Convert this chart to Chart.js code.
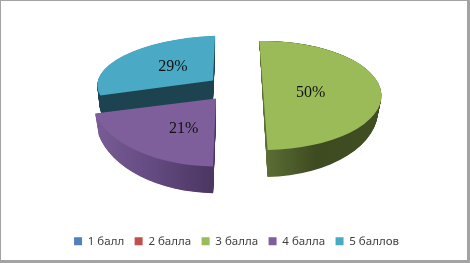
<!DOCTYPE html>
<html>
<head>
<meta charset="utf-8">
<script src="https://cdn.jsdelivr.net/npm/chart.js@4"></script>
<style>
  html, body { margin: 0; padding: 0; background: #fff; }
  #frame {
    position: absolute; left: 0; top: 0;
    width: 470px; height: 263px; box-sizing: border-box;
    border-style: solid; border-color: #a3a3a3;
    border-width: 1px 3px 3px 1px;
  }
  canvas { display: block; filter: blur(0.4px); }
</style>
</head>
<body>
<div id="frame"><canvas id="chart" width="466" height="259"></canvas></div>
<script>
/* ================================================
   DATA
================================================ */

const categories = ['1 балл', '2 балла', '3 балла', '4 балла', '5 баллов'];
const shares     = [0, 0, 50, 21, 29];
const colors     = ['#4f81bd', '#c0504d', '#9bbb59', '#7e5f9c', '#4aa9c4'];

/* ================================================
   FAKE 3D: per-slice tilt, explode and wall look
================================================ */

// back to front, the purple slice has to cover the teal wall
const DRAW_ORDER = [4, 3, 2];

const SLICE_3D = {
  2: {
    tilt: [1, 0, 0, 0.462], shift: [27, -17.5],
    wall: { dy: 15, kx: 0.97, ky: 1.22 },
    grad: [0, 1],
    stops: [[0, '#5d7036'], [0.45, '#3e4a20'], [1, '#414e23']],
    label: [0.40, 0.56, -2],
  },
  3: {
    tilt: [1.05, 0.036, -0.062, 0.575], shift: [-20.5, -14.5],
    wall: { dy: 20, kx: 0.97, ky: 1.1 },
    grad: [-1.05, 0],
    stops: [[0, '#7a5d96'], [0.5, '#634a80'], [1, '#4a3560']],
    label: [0.40, 0.56, 0],
  },
  4: {
    tilt: [0.98, -0.02, -0.052, 0.381], shift: [-23.5, -32.5],
    wall: { dy: 20, kx: 0.98, ky: 1 },
    grad: [-1, 0],
    stops: [[0, '#1d4350'], [1, '#1d4350']],
    label: [0.45, 0.56, 0],
  },
};

function wallFill(ctx, el, look) {
  const base = el.x + look.shift[0];
  const g = ctx.createLinearGradient(
    base + look.grad[0] * el.outerRadius, 0,
    base + look.grad[1] * el.outerRadius, 0
  );
  look.stops.forEach(s => g.addColorStop(s[0], s[1]));
  return g;
}

function applySlice(ctx, el, look, t) {
  const m = look.tilt;
  const kx = 1 + (look.wall.kx - 1) * t;
  const ky = 1 + (look.wall.ky - 1) * t;
  ctx.translate(el.x + look.shift[0], el.y + look.shift[1] + look.wall.dy * t);
  ctx.transform(m[0] * kx, m[1] * ky, m[2] * kx, m[3] * ky, 0, 0);
  ctx.translate(-el.x, -el.y);
}

const pie3d = {
  id: 'pie3d',
  beforeDatasetDraw(chart, args) {
    const ctx = chart.ctx;
    DRAW_ORDER.forEach(i => {
      const el = args.meta.data[i];
      const look = SLICE_3D[i];

      /* Side walls */
      ctx.save();
      const fill = wallFill(ctx, el, look);
      for (let n = 40; n > 0; n--) {
        ctx.save();
        applySlice(ctx, el, look, n / 40);
        ctx.beginPath();
        ctx.moveTo(el.x, el.y);
        ctx.arc(el.x, el.y, el.outerRadius, el.startAngle, el.endAngle);
        ctx.closePath();
        ctx.restore();
        ctx.fillStyle = fill;
        ctx.fill();
      }
      ctx.restore();

      /* Top face */
      ctx.save();
      applySlice(ctx, el, look, 0);
      el.draw(ctx);
      ctx.restore();
    });
    return false;
  },
  afterDatasetsDraw(chart) {
    const ctx = chart.ctx;
    const meta = chart.getDatasetMeta(0);
    ctx.save();
    ctx.font = '16px "Liberation Serif"';
    ctx.fillStyle = '#111';
    ctx.textAlign = 'center';
    ctx.textBaseline = 'middle';
    DRAW_ORDER.forEach(i => {
      const el = meta.data[i];
      const look = SLICE_3D[i];
      const mid = (el.startAngle + el.endAngle) / 2;
      const px = Math.cos(mid) * el.outerRadius * look.label[0];
      const py = Math.sin(mid) * el.outerRadius * look.label[1];
      const m = look.tilt;
      const x = el.x + look.shift[0] + m[0] * px + m[2] * py;
      const y = el.y + look.shift[1] + m[1] * px + m[3] * py + look.label[2];
      ctx.fillText(shares[i] + '%', x, y);
    });
    ctx.restore();
  },
};

/* ================================================
   CHART
================================================ */

new Chart(document.getElementById('chart').getContext('2d'), {
  type: 'pie',
  data: {
    labels: categories,
    datasets: [{
      data: shares,
      backgroundColor: colors,
      borderWidth: 0,
    }],
  },
  options: {
    responsive: false,
    animation: false,
    radius: 118,
    rotation: -2,
    layout: { padding: { bottom: 3, left: 5 } },
    plugins: {
      tooltip: { enabled: false },
      legend: {
        position: 'bottom',
        labels: {
          color: '#404040',
          boxWidth: 8,
          boxHeight: 8,
          padding: 10.5,
          font: { family: '"Noto Sans"', size: 11.5 },
        },
      },
    },
  },
  plugins: [pie3d],
});
</script>
</body>
</html>
